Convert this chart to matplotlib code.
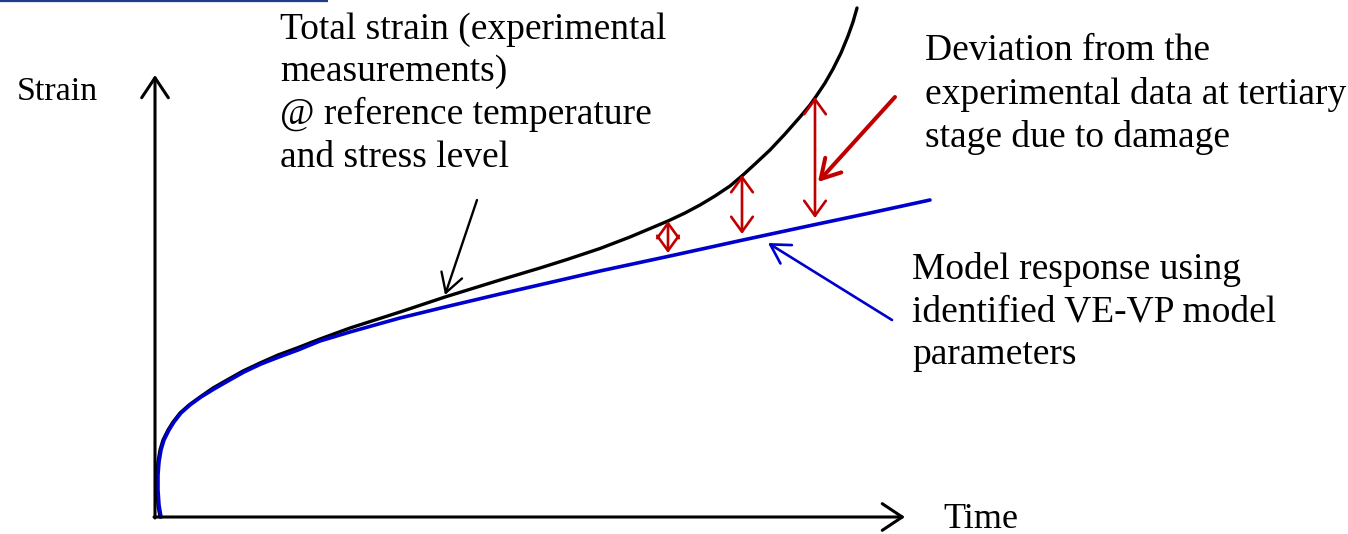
import numpy as np
import matplotlib
matplotlib.use("Agg")
import matplotlib.pyplot as plt

# schematic values, time / strain in drawing units (origin at the axes corner)
exp_time = [5, 3, 2, 2, 3, 5, 8, 13, 18, 25, 34, 45, 58, 72, 88, 105, 123, 142,
            165, 195, 220, 245, 290, 345, 385, 412, 445, 475, 513, 530, 545,
            560, 575, 588, 600, 615, 630, 645, 655, 662, 670, 678, 686, 693,
            698, 702]
exp_strain = [0, 12, 27, 42, 55, 67, 77, 87, 95, 104, 112, 120, 129, 137, 146,
              154, 162, 169, 178, 189, 197, 205, 220, 237, 249, 257.5, 268.5,
              280, 296, 304, 312, 321, 331, 342, 353, 367, 383, 400, 412, 422,
              434, 448, 464, 481, 495, 509]

model_time = [6, 4, 3, 3, 4, 6, 9, 14, 19, 26, 35, 46, 59, 73, 89, 106, 124,
              143, 165, 195, 220, 245, 290, 345, 395, 445, 515, 588, 658, 715,
              775]
model_strain = [0, 12, 27, 42, 55, 67, 77, 87, 95, 104, 112, 120, 128, 136,
                145, 153, 160, 167, 176, 185, 192, 199, 210, 223, 234.5, 246,
                261, 277, 292, 304, 317]

# red double arrows: deviation between data and model
gap_time = [513, 587, 660]
gap_low = [264, 283, 299]
gap_high = [296, 342, 420]

axis_len_time = 750
axis_len_strain = 442

label_exp = "Total strain (experimental\nmeasurements)\n@ reference temperature\nand stress level"
label_dev = "Deviation from the\nexperimental data at tertiary\nstage due to damage"
label_model = "Model response using\nidentified VE-VP model\nparameters"

plt.rcParams['font.family'] = ['Liberation Serif', 'DejaVu Serif']

fig = plt.figure(figsize=(13.48, 5.34), dpi=100)
ax = fig.add_axes([0, 0, 1, 1])
ax.set_xlim(-155, 1193)
ax.set_ylim(-17, 517)
ax.axis('off')

red = '#c00000'
blue = '#0000cc'

# axes with arrow heads
axis_style = dict(arrowstyle='->,head_length=0.6,head_width=0.4', lw=2.2,
                  color='black', mutation_scale=24, shrinkA=0, shrinkB=0)
ax.annotate('', xy=(0, axis_len_strain), xytext=(0, -1), arrowprops=axis_style)
ax.annotate('', xy=(axis_len_time, 0), xytext=(-1, 0), arrowprops=axis_style)

ax.plot(exp_time, exp_strain, color='black', lw=2.4, solid_capstyle='round',
        solid_joinstyle='round')
ax.plot(model_time, model_strain, color=blue, lw=2.6, solid_capstyle='round',
        solid_joinstyle='round')

for t, lo, hi in zip(gap_time, gap_low, gap_high):
    ax.annotate('', xy=(t, hi), xytext=(t, lo),
                arrowprops=dict(arrowstyle='<->,head_length=0.36,head_width=0.26',
                                color=red, lw=1.9, mutation_scale=30,
                                shrinkA=0, shrinkB=0))

# pointer arrows
head = '->,head_length=0.45,head_width=0.26'
ax.annotate('', xy=(663, 335), xytext=(740, 420),
            arrowprops=dict(arrowstyle=head, color=red, lw=2.9,
                            mutation_scale=30, shrinkA=0, shrinkB=0))
ax.annotate('', xy=(290, 222), xytext=(322, 317),
            arrowprops=dict(arrowstyle=head, color='black', lw=1.7,
                            mutation_scale=30, shrinkA=0, shrinkB=0))
ax.annotate('', xy=(613, 274), xytext=(737, 197),
            arrowprops=dict(arrowstyle=head, color=blue, lw=1.9,
                            mutation_scale=30, shrinkA=0, shrinkB=0))

fs = 27
ls = 1.3
ax.text(125, 505, label_exp, fontsize=fs, va='top', ha='left', linespacing=ls)
ax.text(770, 483, label_dev, fontsize=fs, va='top', ha='left', linespacing=ls)
ax.text(757, 265, label_model, fontsize=fs, va='top', ha='left', linespacing=ls)
ax.text(-138, 441, "Strain", fontsize=24.5, va='top', ha='left')
ax.text(788, -11, "Time", fontsize=26, va='baseline', ha='left')

# thin navy rule in the top-left corner
ax.plot([-155, 173], [516, 516], color='#1f3b8c', lw=1.6, solid_capstyle='butt')

fig.savefig('out.png', dpi=100)
